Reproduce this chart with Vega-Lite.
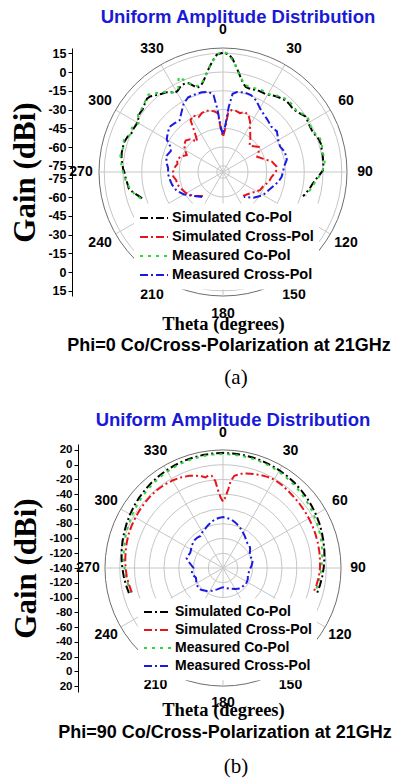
{
  "$schema": "https://vega.github.io/schema/vega-lite/v6.json",
  "background": "white",
  "padding": {"left": 9, "top": 7, "right": 5, "bottom": 5},
  "config": {
    "view": {"stroke": null},
    "font": "Liberation Sans",
    "axis": {"labelColor": "#000", "titleColor": "#000", "domainColor": "#000", "tickColor": "#000"}
  },
  "bounds": "flush",
  "center": true,
  "spacing": 148,
  "resolve": {
    "scale": {"color": "independent", "strokeDash": "independent", "size": "independent", "stroke": "independent"},
    "legend": {"color": "independent", "strokeDash": "independent"}
  },
  "datasets": {
    "angles": [
      {"a": 0, "label": "0"}, {"a": 30, "label": "30"}, {"a": 60, "label": "60"}, {"a": 90, "label": "90"},
      {"a": 120, "label": "120"}, {"a": 150, "label": "150"}, {"a": 180, "label": "180"}, {"a": 210, "label": "210"},
      {"a": 240, "label": "240"}, {"a": 270, "label": "270"}, {"a": 300, "label": "300"}, {"a": 330, "label": "330"}
    ],
    "gridA": [{"g": 19.2}, {"g": 15}, {"g": 0}, {"g": -15}, {"g": -30}, {"g": -45}, {"g": -60}, {"g": -75}],
    "gridB": [{"g": 20}, {"g": 0}, {"g": -20}, {"g": -40}, {"g": -60}, {"g": -80}, {"g": -100}, {"g": -120}],
    "capA": [{"text": "Phi=0 Co/Cross-Polarization at 21GHz"}],
    "tagA": [{"text": "(a)"}],
    "capB": [{"text": "Phi=90 Co/Cross-Polarization at 21GHz"}],
    "tagB": [{"text": "(b)"}],
    "curvesA": [
      {"s": "Simulated Co-Pol", "t": -108, "g": -12}, {"s": "Simulated Co-Pol", "t": -106, "g": -10}, {"s": "Simulated Co-Pol", "t": -103, "g": -6.5},
      {"s": "Simulated Co-Pol", "t": -100, "g": -3.5}, {"s": "Simulated Co-Pol", "t": -97, "g": -3}, {"s": "Simulated Co-Pol", "t": -94, "g": -2},
      {"s": "Simulated Co-Pol", "t": -91, "g": -1.5}, {"s": "Simulated Co-Pol", "t": -88, "g": 0}, {"s": "Simulated Co-Pol", "t": -85, "g": 1},
      {"s": "Simulated Co-Pol", "t": -82, "g": 2}, {"s": "Simulated Co-Pol", "t": -79, "g": 2.5}, {"s": "Simulated Co-Pol", "t": -76, "g": 2.5},
      {"s": "Simulated Co-Pol", "t": -73, "g": 2.5}, {"s": "Simulated Co-Pol", "t": -70, "g": 1.5}, {"s": "Simulated Co-Pol", "t": -67, "g": -0.5},
      {"s": "Simulated Co-Pol", "t": -64, "g": -0.5}, {"s": "Simulated Co-Pol", "t": -61, "g": -1}, {"s": "Simulated Co-Pol", "t": -58, "g": 0},
      {"s": "Simulated Co-Pol", "t": -55, "g": 1.5}, {"s": "Simulated Co-Pol", "t": -52, "g": 1.5}, {"s": "Simulated Co-Pol", "t": -49, "g": 3},
      {"s": "Simulated Co-Pol", "t": -46, "g": 4.5}, {"s": "Simulated Co-Pol", "t": -44, "g": 4}, {"s": "Simulated Co-Pol", "t": -41, "g": 1.5},
      {"s": "Simulated Co-Pol", "t": -38, "g": -0.5}, {"s": "Simulated Co-Pol", "t": -35, "g": -2}, {"s": "Simulated Co-Pol", "t": -33, "g": -4},
      {"s": "Simulated Co-Pol", "t": -31, "g": -6}, {"s": "Simulated Co-Pol", "t": -29, "g": -5.5}, {"s": "Simulated Co-Pol", "t": -27, "g": -4},
      {"s": "Simulated Co-Pol", "t": -25, "g": -3}, {"s": "Simulated Co-Pol", "t": -23, "g": -3}, {"s": "Simulated Co-Pol", "t": -21, "g": -4},
      {"s": "Simulated Co-Pol", "t": -19, "g": -7}, {"s": "Simulated Co-Pol", "t": -17, "g": -9.5}, {"s": "Simulated Co-Pol", "t": -15, "g": -9},
      {"s": "Simulated Co-Pol", "t": -13, "g": -7}, {"s": "Simulated Co-Pol", "t": -11, "g": -3.5}, {"s": "Simulated Co-Pol", "t": -9, "g": 1},
      {"s": "Simulated Co-Pol", "t": -7, "g": 5.5}, {"s": "Simulated Co-Pol", "t": -5, "g": 10}, {"s": "Simulated Co-Pol", "t": -3, "g": 14},
      {"s": "Simulated Co-Pol", "t": 0, "g": 15.5}, {"s": "Simulated Co-Pol", "t": 3, "g": 14}, {"s": "Simulated Co-Pol", "t": 5, "g": 10.5},
      {"s": "Simulated Co-Pol", "t": 7, "g": 5}, {"s": "Simulated Co-Pol", "t": 9, "g": 0.5}, {"s": "Simulated Co-Pol", "t": 11, "g": -4},
      {"s": "Simulated Co-Pol", "t": 13, "g": -7.5}, {"s": "Simulated Co-Pol", "t": 15, "g": -9.5}, {"s": "Simulated Co-Pol", "t": 17, "g": -10},
      {"s": "Simulated Co-Pol", "t": 19, "g": -10}, {"s": "Simulated Co-Pol", "t": 21, "g": -9.5}, {"s": "Simulated Co-Pol", "t": 23, "g": -9},
      {"s": "Simulated Co-Pol", "t": 25, "g": -9}, {"s": "Simulated Co-Pol", "t": 27, "g": -9}, {"s": "Simulated Co-Pol", "t": 29, "g": -9},
      {"s": "Simulated Co-Pol", "t": 31, "g": -8}, {"s": "Simulated Co-Pol", "t": 33, "g": -7}, {"s": "Simulated Co-Pol", "t": 35, "g": -6},
      {"s": "Simulated Co-Pol", "t": 38, "g": -5}, {"s": "Simulated Co-Pol", "t": 41, "g": -4}, {"s": "Simulated Co-Pol", "t": 44, "g": -4},
      {"s": "Simulated Co-Pol", "t": 47, "g": -4.5}, {"s": "Simulated Co-Pol", "t": 50, "g": -4}, {"s": "Simulated Co-Pol", "t": 53, "g": -2.5},
      {"s": "Simulated Co-Pol", "t": 56, "g": -0.5}, {"s": "Simulated Co-Pol", "t": 59, "g": -1}, {"s": "Simulated Co-Pol", "t": 62, "g": -1.5},
      {"s": "Simulated Co-Pol", "t": 65, "g": -1.5}, {"s": "Simulated Co-Pol", "t": 68, "g": -0.5}, {"s": "Simulated Co-Pol", "t": 71, "g": 1},
      {"s": "Simulated Co-Pol", "t": 74, "g": 1.5}, {"s": "Simulated Co-Pol", "t": 77, "g": 1}, {"s": "Simulated Co-Pol", "t": 80, "g": 1},
      {"s": "Simulated Co-Pol", "t": 83, "g": 0.6}, {"s": "Simulated Co-Pol", "t": 86, "g": 0.5}, {"s": "Simulated Co-Pol", "t": 89, "g": 0},
      {"s": "Simulated Co-Pol", "t": 92, "g": -3}, {"s": "Simulated Co-Pol", "t": 95, "g": -6}, {"s": "Simulated Co-Pol", "t": 98, "g": -8},
      {"s": "Simulated Co-Pol", "t": 101, "g": -9.5}, {"s": "Simulated Co-Pol", "t": 104, "g": -11.5}, {"s": "Simulated Co-Pol", "t": 107, "g": -13},

      {"s": "Measured Co-Pol", "t": -108, "g": -11}, {"s": "Measured Co-Pol", "t": -104, "g": -7}, {"s": "Measured Co-Pol", "t": -100, "g": -4.5},
      {"s": "Measured Co-Pol", "t": -96, "g": -2}, {"s": "Measured Co-Pol", "t": -92, "g": -1}, {"s": "Measured Co-Pol", "t": -88, "g": 1},
      {"s": "Measured Co-Pol", "t": -84, "g": 2}, {"s": "Measured Co-Pol", "t": -80, "g": 3.5}, {"s": "Measured Co-Pol", "t": -76, "g": 2},
      {"s": "Measured Co-Pol", "t": -72, "g": 3.5}, {"s": "Measured Co-Pol", "t": -68, "g": 0}, {"s": "Measured Co-Pol", "t": -64, "g": 1},
      {"s": "Measured Co-Pol", "t": -60, "g": -2}, {"s": "Measured Co-Pol", "t": -56, "g": 2}, {"s": "Measured Co-Pol", "t": -52, "g": 2.5},
      {"s": "Measured Co-Pol", "t": -48, "g": 4}, {"s": "Measured Co-Pol", "t": -44, "g": 6}, {"s": "Measured Co-Pol", "t": -40, "g": 2.5},
      {"s": "Measured Co-Pol", "t": -36, "g": -1}, {"s": "Measured Co-Pol", "t": -32, "g": -5}, {"s": "Measured Co-Pol", "t": -28, "g": -4},
      {"s": "Measured Co-Pol", "t": -25, "g": 4}, {"s": "Measured Co-Pol", "t": -22, "g": -2}, {"s": "Measured Co-Pol", "t": -18, "g": -8},
      {"s": "Measured Co-Pol", "t": -14, "g": -8}, {"s": "Measured Co-Pol", "t": -10, "g": -1}, {"s": "Measured Co-Pol", "t": -6, "g": 8},
      {"s": "Measured Co-Pol", "t": -2, "g": 15}, {"s": "Measured Co-Pol", "t": 0, "g": 16}, {"s": "Measured Co-Pol", "t": 2, "g": 15},
      {"s": "Measured Co-Pol", "t": 6, "g": 8}, {"s": "Measured Co-Pol", "t": 10, "g": -2}, {"s": "Measured Co-Pol", "t": 14, "g": -8},
      {"s": "Measured Co-Pol", "t": 18, "g": -9}, {"s": "Measured Co-Pol", "t": 22, "g": -8}, {"s": "Measured Co-Pol", "t": 26, "g": -7.5},
      {"s": "Measured Co-Pol", "t": 30, "g": -8}, {"s": "Measured Co-Pol", "t": 34, "g": -6}, {"s": "Measured Co-Pol", "t": 38, "g": -3.5},
      {"s": "Measured Co-Pol", "t": 42, "g": -3}, {"s": "Measured Co-Pol", "t": 46, "g": -2.5}, {"s": "Measured Co-Pol", "t": 50, "g": -3.5},
      {"s": "Measured Co-Pol", "t": 54, "g": -1}, {"s": "Measured Co-Pol", "t": 58, "g": 0.5}, {"s": "Measured Co-Pol", "t": 62, "g": -1},
      {"s": "Measured Co-Pol", "t": 66, "g": -1}, {"s": "Measured Co-Pol", "t": 70, "g": 2}, {"s": "Measured Co-Pol", "t": 74, "g": 2.5},
      {"s": "Measured Co-Pol", "t": 78, "g": 1}, {"s": "Measured Co-Pol", "t": 82, "g": 2}, {"s": "Measured Co-Pol", "t": 86, "g": 1.5},
      {"s": "Measured Co-Pol", "t": 90, "g": -1}, {"s": "Measured Co-Pol", "t": 94, "g": -4}, {"s": "Measured Co-Pol", "t": 98, "g": -7},
      {"s": "Measured Co-Pol", "t": 102, "g": -9}, {"s": "Measured Co-Pol", "t": 106, "g": -11},

      {"s": "Simulated Cross-Pol", "t": -140, "g": -55}, {"s": "Simulated Cross-Pol", "t": -130, "g": -50}, {"s": "Simulated Cross-Pol", "t": -120, "g": -46},
      {"s": "Simulated Cross-Pol", "t": -112, "g": -44}, {"s": "Simulated Cross-Pol", "t": -105, "g": -42}, {"s": "Simulated Cross-Pol", "t": -100, "g": -42},
      {"s": "Simulated Cross-Pol", "t": -95, "g": -40}, {"s": "Simulated Cross-Pol", "t": -90, "g": -40}, {"s": "Simulated Cross-Pol", "t": -85, "g": -41},
      {"s": "Simulated Cross-Pol", "t": -80, "g": -43}, {"s": "Simulated Cross-Pol", "t": -75, "g": -42}, {"s": "Simulated Cross-Pol", "t": -70, "g": -44},
      {"s": "Simulated Cross-Pol", "t": -65, "g": -48}, {"s": "Simulated Cross-Pol", "t": -60, "g": -45}, {"s": "Simulated Cross-Pol", "t": -55, "g": -42},
      {"s": "Simulated Cross-Pol", "t": -50, "g": -41}, {"s": "Simulated Cross-Pol", "t": -45, "g": -43}, {"s": "Simulated Cross-Pol", "t": -40, "g": -48},
      {"s": "Simulated Cross-Pol", "t": -36, "g": -42}, {"s": "Simulated Cross-Pol", "t": -32, "g": -31}, {"s": "Simulated Cross-Pol", "t": -28, "g": -29},
      {"s": "Simulated Cross-Pol", "t": -24, "g": -32}, {"s": "Simulated Cross-Pol", "t": -20, "g": -30}, {"s": "Simulated Cross-Pol", "t": -16, "g": -29},
      {"s": "Simulated Cross-Pol", "t": -12, "g": -30}, {"s": "Simulated Cross-Pol", "t": -8, "g": -31}, {"s": "Simulated Cross-Pol", "t": -5, "g": -33},
      {"s": "Simulated Cross-Pol", "t": -3, "g": -45}, {"s": "Simulated Cross-Pol", "t": 0, "g": -52}, {"s": "Simulated Cross-Pol", "t": 3, "g": -45},
      {"s": "Simulated Cross-Pol", "t": 5, "g": -32}, {"s": "Simulated Cross-Pol", "t": 8, "g": -30}, {"s": "Simulated Cross-Pol", "t": 12, "g": -30},
      {"s": "Simulated Cross-Pol", "t": 16, "g": -31}, {"s": "Simulated Cross-Pol", "t": 20, "g": -29}, {"s": "Simulated Cross-Pol", "t": 24, "g": -30},
      {"s": "Simulated Cross-Pol", "t": 28, "g": -34}, {"s": "Simulated Cross-Pol", "t": 31, "g": -38}, {"s": "Simulated Cross-Pol", "t": 35, "g": -42},
      {"s": "Simulated Cross-Pol", "t": 40, "g": -46}, {"s": "Simulated Cross-Pol", "t": 45, "g": -50}, {"s": "Simulated Cross-Pol", "t": 50, "g": -48},
      {"s": "Simulated Cross-Pol", "t": 55, "g": -45}, {"s": "Simulated Cross-Pol", "t": 60, "g": -47}, {"s": "Simulated Cross-Pol", "t": 66, "g": -50},
      {"s": "Simulated Cross-Pol", "t": 72, "g": -46}, {"s": "Simulated Cross-Pol", "t": 78, "g": -40}, {"s": "Simulated Cross-Pol", "t": 84, "g": -37},
      {"s": "Simulated Cross-Pol", "t": 88, "g": -37}, {"s": "Simulated Cross-Pol", "t": 92, "g": -39}, {"s": "Simulated Cross-Pol", "t": 96, "g": -41},
      {"s": "Simulated Cross-Pol", "t": 100, "g": -42}, {"s": "Simulated Cross-Pol", "t": 105, "g": -44}, {"s": "Simulated Cross-Pol", "t": 110, "g": -46},
      {"s": "Simulated Cross-Pol", "t": 116, "g": -47}, {"s": "Simulated Cross-Pol", "t": 122, "g": -50}, {"s": "Simulated Cross-Pol", "t": 130, "g": -53},
      {"s": "Simulated Cross-Pol", "t": 140, "g": -55},

      {"s": "Measured Cross-Pol", "t": -140, "g": -54}, {"s": "Measured Cross-Pol", "t": -130, "g": -50}, {"s": "Measured Cross-Pol", "t": -120, "g": -44},
      {"s": "Measured Cross-Pol", "t": -112, "g": -40}, {"s": "Measured Cross-Pol", "t": -104, "g": -38}, {"s": "Measured Cross-Pol", "t": -98, "g": -37},
      {"s": "Measured Cross-Pol", "t": -92, "g": -36}, {"s": "Measured Cross-Pol", "t": -86, "g": -36}, {"s": "Measured Cross-Pol", "t": -80, "g": -34},
      {"s": "Measured Cross-Pol", "t": -74, "g": -33}, {"s": "Measured Cross-Pol", "t": -68, "g": -35}, {"s": "Measured Cross-Pol", "t": -64, "g": -33},
      {"s": "Measured Cross-Pol", "t": -60, "g": -28}, {"s": "Measured Cross-Pol", "t": -55, "g": -26}, {"s": "Measured Cross-Pol", "t": -50, "g": -24},
      {"s": "Measured Cross-Pol", "t": -45, "g": -25}, {"s": "Measured Cross-Pol", "t": -40, "g": -26}, {"s": "Measured Cross-Pol", "t": -35, "g": -22},
      {"s": "Measured Cross-Pol", "t": -30, "g": -17}, {"s": "Measured Cross-Pol", "t": -25, "g": -14}, {"s": "Measured Cross-Pol", "t": -20, "g": -14},
      {"s": "Measured Cross-Pol", "t": -15, "g": -14}, {"s": "Measured Cross-Pol", "t": -10, "g": -15}, {"s": "Measured Cross-Pol", "t": -7, "g": -18},
      {"s": "Measured Cross-Pol", "t": -5, "g": -30}, {"s": "Measured Cross-Pol", "t": -3, "g": -44}, {"s": "Measured Cross-Pol", "t": 0, "g": -50},
      {"s": "Measured Cross-Pol", "t": 3, "g": -42}, {"s": "Measured Cross-Pol", "t": 5, "g": -28}, {"s": "Measured Cross-Pol", "t": 7, "g": -17},
      {"s": "Measured Cross-Pol", "t": 10, "g": -15}, {"s": "Measured Cross-Pol", "t": 15, "g": -14}, {"s": "Measured Cross-Pol", "t": 20, "g": -14.5},
      {"s": "Measured Cross-Pol", "t": 25, "g": -17}, {"s": "Measured Cross-Pol", "t": 30, "g": -21}, {"s": "Measured Cross-Pol", "t": 34, "g": -23},
      {"s": "Measured Cross-Pol", "t": 40, "g": -25}, {"s": "Measured Cross-Pol", "t": 47, "g": -27}, {"s": "Measured Cross-Pol", "t": 53, "g": -26},
      {"s": "Measured Cross-Pol", "t": 60, "g": -29}, {"s": "Measured Cross-Pol", "t": 66, "g": -30}, {"s": "Measured Cross-Pol", "t": 72, "g": -28},
      {"s": "Measured Cross-Pol", "t": 79, "g": -28}, {"s": "Measured Cross-Pol", "t": 85, "g": -31}, {"s": "Measured Cross-Pol", "t": 90, "g": -32},
      {"s": "Measured Cross-Pol", "t": 95, "g": -33}, {"s": "Measured Cross-Pol", "t": 100, "g": -35}, {"s": "Measured Cross-Pol", "t": 110, "g": -40},
      {"s": "Measured Cross-Pol", "t": 120, "g": -43}, {"s": "Measured Cross-Pol", "t": 130, "g": -48}, {"s": "Measured Cross-Pol", "t": 140, "g": -54}
    ],
    "curvesB": [
      {"s": "Simulated Co-Pol", "t": -105, "g": -8}, {"s": "Simulated Co-Pol", "t": -100, "g": -6.5}, {"s": "Simulated Co-Pol", "t": -95, "g": -5},
      {"s": "Simulated Co-Pol", "t": -90, "g": -3.5}, {"s": "Simulated Co-Pol", "t": -85, "g": -2}, {"s": "Simulated Co-Pol", "t": -80, "g": -0.5},
      {"s": "Simulated Co-Pol", "t": -75, "g": 1}, {"s": "Simulated Co-Pol", "t": -70, "g": 2.5}, {"s": "Simulated Co-Pol", "t": -65, "g": 4},
      {"s": "Simulated Co-Pol", "t": -60, "g": 5.5}, {"s": "Simulated Co-Pol", "t": -55, "g": 7}, {"s": "Simulated Co-Pol", "t": -50, "g": 8.3},
      {"s": "Simulated Co-Pol", "t": -45, "g": 9.6}, {"s": "Simulated Co-Pol", "t": -40, "g": 10.9}, {"s": "Simulated Co-Pol", "t": -35, "g": 12},
      {"s": "Simulated Co-Pol", "t": -30, "g": 13}, {"s": "Simulated Co-Pol", "t": -25, "g": 13.9}, {"s": "Simulated Co-Pol", "t": -20, "g": 14.6},
      {"s": "Simulated Co-Pol", "t": -15, "g": 15.2}, {"s": "Simulated Co-Pol", "t": -10, "g": 15.6}, {"s": "Simulated Co-Pol", "t": -5, "g": 15.9},
      {"s": "Simulated Co-Pol", "t": 0, "g": 16}, {"s": "Simulated Co-Pol", "t": 5, "g": 15.9}, {"s": "Simulated Co-Pol", "t": 10, "g": 15.6},
      {"s": "Simulated Co-Pol", "t": 15, "g": 15.2}, {"s": "Simulated Co-Pol", "t": 20, "g": 14.6}, {"s": "Simulated Co-Pol", "t": 25, "g": 13.8},
      {"s": "Simulated Co-Pol", "t": 30, "g": 12.9}, {"s": "Simulated Co-Pol", "t": 35, "g": 11.9}, {"s": "Simulated Co-Pol", "t": 40, "g": 10.8},
      {"s": "Simulated Co-Pol", "t": 45, "g": 9.5}, {"s": "Simulated Co-Pol", "t": 50, "g": 8.2}, {"s": "Simulated Co-Pol", "t": 55, "g": 6.8},
      {"s": "Simulated Co-Pol", "t": 60, "g": 5.4}, {"s": "Simulated Co-Pol", "t": 65, "g": 4}, {"s": "Simulated Co-Pol", "t": 70, "g": 2.5},
      {"s": "Simulated Co-Pol", "t": 75, "g": 1}, {"s": "Simulated Co-Pol", "t": 80, "g": -0.5}, {"s": "Simulated Co-Pol", "t": 85, "g": -2},
      {"s": "Simulated Co-Pol", "t": 90, "g": -3.5}, {"s": "Simulated Co-Pol", "t": 95, "g": -5}, {"s": "Simulated Co-Pol", "t": 100, "g": -6.5},
      {"s": "Simulated Co-Pol", "t": 105, "g": -8},

      {"s": "Measured Co-Pol", "t": -105, "g": -11}, {"s": "Measured Co-Pol", "t": -100, "g": -9.5}, {"s": "Measured Co-Pol", "t": -95, "g": -8},
      {"s": "Measured Co-Pol", "t": -90, "g": -6.5}, {"s": "Measured Co-Pol", "t": -85, "g": -5}, {"s": "Measured Co-Pol", "t": -80, "g": -3.5},
      {"s": "Measured Co-Pol", "t": -75, "g": -2}, {"s": "Measured Co-Pol", "t": -70, "g": -0.5}, {"s": "Measured Co-Pol", "t": -65, "g": 1},
      {"s": "Measured Co-Pol", "t": -60, "g": 2.5}, {"s": "Measured Co-Pol", "t": -55, "g": 4}, {"s": "Measured Co-Pol", "t": -50, "g": 5.5},
      {"s": "Measured Co-Pol", "t": -45, "g": 7}, {"s": "Measured Co-Pol", "t": -40, "g": 8.5}, {"s": "Measured Co-Pol", "t": -35, "g": 9.8},
      {"s": "Measured Co-Pol", "t": -30, "g": 11}, {"s": "Measured Co-Pol", "t": -25, "g": 12}, {"s": "Measured Co-Pol", "t": -20, "g": 13},
      {"s": "Measured Co-Pol", "t": -15, "g": 13.6}, {"s": "Measured Co-Pol", "t": -10, "g": 14.1}, {"s": "Measured Co-Pol", "t": -5, "g": 14.4},
      {"s": "Measured Co-Pol", "t": 0, "g": 14.5}, {"s": "Measured Co-Pol", "t": 5, "g": 14.3}, {"s": "Measured Co-Pol", "t": 10, "g": 14},
      {"s": "Measured Co-Pol", "t": 15, "g": 13.5}, {"s": "Measured Co-Pol", "t": 20, "g": 12.9}, {"s": "Measured Co-Pol", "t": 25, "g": 12},
      {"s": "Measured Co-Pol", "t": 30, "g": 11}, {"s": "Measured Co-Pol", "t": 35, "g": 9.7}, {"s": "Measured Co-Pol", "t": 40, "g": 8.4},
      {"s": "Measured Co-Pol", "t": 45, "g": 7}, {"s": "Measured Co-Pol", "t": 50, "g": 5.6}, {"s": "Measured Co-Pol", "t": 55, "g": 4.1},
      {"s": "Measured Co-Pol", "t": 60, "g": 2.6}, {"s": "Measured Co-Pol", "t": 65, "g": 1}, {"s": "Measured Co-Pol", "t": 70, "g": -0.5},
      {"s": "Measured Co-Pol", "t": 75, "g": -2}, {"s": "Measured Co-Pol", "t": 80, "g": -3.5}, {"s": "Measured Co-Pol", "t": 85, "g": -5},
      {"s": "Measured Co-Pol", "t": 90, "g": -6.5}, {"s": "Measured Co-Pol", "t": 95, "g": -8}, {"s": "Measured Co-Pol", "t": 100, "g": -9.5},
      {"s": "Measured Co-Pol", "t": 105, "g": -11},

      {"s": "Simulated Cross-Pol", "t": -105, "g": -12}, {"s": "Simulated Cross-Pol", "t": -100, "g": -10.5}, {"s": "Simulated Cross-Pol", "t": -95, "g": -9},
      {"s": "Simulated Cross-Pol", "t": -90, "g": -8}, {"s": "Simulated Cross-Pol", "t": -85, "g": -7}, {"s": "Simulated Cross-Pol", "t": -80, "g": -6},
      {"s": "Simulated Cross-Pol", "t": -75, "g": -5}, {"s": "Simulated Cross-Pol", "t": -70, "g": -4}, {"s": "Simulated Cross-Pol", "t": -65, "g": -3.5},
      {"s": "Simulated Cross-Pol", "t": -60, "g": -3}, {"s": "Simulated Cross-Pol", "t": -55, "g": -2.5}, {"s": "Simulated Cross-Pol", "t": -50, "g": -2},
      {"s": "Simulated Cross-Pol", "t": -45, "g": -1.5}, {"s": "Simulated Cross-Pol", "t": -40, "g": -1.5}, {"s": "Simulated Cross-Pol", "t": -35, "g": -2},
      {"s": "Simulated Cross-Pol", "t": -30, "g": -3}, {"s": "Simulated Cross-Pol", "t": -25, "g": -4.5}, {"s": "Simulated Cross-Pol", "t": -20, "g": -7},
      {"s": "Simulated Cross-Pol", "t": -16, "g": -10}, {"s": "Simulated Cross-Pol", "t": -13, "g": -12.5}, {"s": "Simulated Cross-Pol", "t": -11, "g": -15},
      {"s": "Simulated Cross-Pol", "t": -9, "g": -13}, {"s": "Simulated Cross-Pol", "t": -7, "g": -14}, {"s": "Simulated Cross-Pol", "t": -5, "g": -22},
      {"s": "Simulated Cross-Pol", "t": -4, "g": -32}, {"s": "Simulated Cross-Pol", "t": -2, "g": -44}, {"s": "Simulated Cross-Pol", "t": 0, "g": -50},
      {"s": "Simulated Cross-Pol", "t": 2, "g": -44}, {"s": "Simulated Cross-Pol", "t": 4, "g": -32}, {"s": "Simulated Cross-Pol", "t": 5, "g": -22},
      {"s": "Simulated Cross-Pol", "t": 7, "g": -14}, {"s": "Simulated Cross-Pol", "t": 9, "g": -12}, {"s": "Simulated Cross-Pol", "t": 11, "g": -10},
      {"s": "Simulated Cross-Pol", "t": 14, "g": -8}, {"s": "Simulated Cross-Pol", "t": 18, "g": -6}, {"s": "Simulated Cross-Pol", "t": 22, "g": -4},
      {"s": "Simulated Cross-Pol", "t": 26, "g": -2.5}, {"s": "Simulated Cross-Pol", "t": 30, "g": -1.5}, {"s": "Simulated Cross-Pol", "t": 35, "g": -2},
      {"s": "Simulated Cross-Pol", "t": 40, "g": -3}, {"s": "Simulated Cross-Pol", "t": 45, "g": -4}, {"s": "Simulated Cross-Pol", "t": 50, "g": -4.5},
      {"s": "Simulated Cross-Pol", "t": 55, "g": -5}, {"s": "Simulated Cross-Pol", "t": 60, "g": -5.5}, {"s": "Simulated Cross-Pol", "t": 65, "g": -6},
      {"s": "Simulated Cross-Pol", "t": 70, "g": -6.5}, {"s": "Simulated Cross-Pol", "t": 75, "g": -7}, {"s": "Simulated Cross-Pol", "t": 80, "g": -7.5},
      {"s": "Simulated Cross-Pol", "t": 85, "g": -8}, {"s": "Simulated Cross-Pol", "t": 90, "g": -8.5}, {"s": "Simulated Cross-Pol", "t": 95, "g": -9.5},
      {"s": "Simulated Cross-Pol", "t": 100, "g": -11}, {"s": "Simulated Cross-Pol", "t": 105, "g": -13},

      {"s": "Measured Cross-Pol", "t": -180, "g": -114}, {"s": "Measured Cross-Pol", "t": -165, "g": -110}, {"s": "Measured Cross-Pol", "t": -155, "g": -106},
      {"s": "Measured Cross-Pol", "t": -145, "g": -102}, {"s": "Measured Cross-Pol", "t": -136, "g": -98.5}, {"s": "Measured Cross-Pol", "t": -130, "g": -97},
      {"s": "Measured Cross-Pol", "t": -120, "g": -98}, {"s": "Measured Cross-Pol", "t": -115, "g": -100}, {"s": "Measured Cross-Pol", "t": -110, "g": -101},
      {"s": "Measured Cross-Pol", "t": -105, "g": -99}, {"s": "Measured Cross-Pol", "t": -100, "g": -97}, {"s": "Measured Cross-Pol", "t": -95, "g": -98},
      {"s": "Measured Cross-Pol", "t": -90, "g": -100}, {"s": "Measured Cross-Pol", "t": -85, "g": -97}, {"s": "Measured Cross-Pol", "t": -80, "g": -93},
      {"s": "Measured Cross-Pol", "t": -75, "g": -89}, {"s": "Measured Cross-Pol", "t": -70, "g": -90}, {"s": "Measured Cross-Pol", "t": -65, "g": -91},
      {"s": "Measured Cross-Pol", "t": -60, "g": -90}, {"s": "Measured Cross-Pol", "t": -55, "g": -88}, {"s": "Measured Cross-Pol", "t": -50, "g": -87},
      {"s": "Measured Cross-Pol", "t": -45, "g": -86}, {"s": "Measured Cross-Pol", "t": -40, "g": -86}, {"s": "Measured Cross-Pol", "t": -35, "g": -87},
      {"s": "Measured Cross-Pol", "t": -30, "g": -84}, {"s": "Measured Cross-Pol", "t": -25, "g": -82}, {"s": "Measured Cross-Pol", "t": -20, "g": -79},
      {"s": "Measured Cross-Pol", "t": -15, "g": -76}, {"s": "Measured Cross-Pol", "t": -10, "g": -73.5}, {"s": "Measured Cross-Pol", "t": -5, "g": -72},
      {"s": "Measured Cross-Pol", "t": 0, "g": -71}, {"s": "Measured Cross-Pol", "t": 5, "g": -72}, {"s": "Measured Cross-Pol", "t": 10, "g": -73.5},
      {"s": "Measured Cross-Pol", "t": 15, "g": -76}, {"s": "Measured Cross-Pol", "t": 20, "g": -79}, {"s": "Measured Cross-Pol", "t": 25, "g": -82},
      {"s": "Measured Cross-Pol", "t": 30, "g": -85}, {"s": "Measured Cross-Pol", "t": 35, "g": -88}, {"s": "Measured Cross-Pol", "t": 40, "g": -91},
      {"s": "Measured Cross-Pol", "t": 45, "g": -93}, {"s": "Measured Cross-Pol", "t": 50, "g": -93}, {"s": "Measured Cross-Pol", "t": 55, "g": -95},
      {"s": "Measured Cross-Pol", "t": 60, "g": -98}, {"s": "Measured Cross-Pol", "t": 67, "g": -100}, {"s": "Measured Cross-Pol", "t": 75, "g": -98},
      {"s": "Measured Cross-Pol", "t": 85, "g": -101}, {"s": "Measured Cross-Pol", "t": 95, "g": -104}, {"s": "Measured Cross-Pol", "t": 105, "g": -105},
      {"s": "Measured Cross-Pol", "t": 115, "g": -103}, {"s": "Measured Cross-Pol", "t": 125, "g": -102}, {"s": "Measured Cross-Pol", "t": 140, "g": -104},
      {"s": "Measured Cross-Pol", "t": 150, "g": -107}, {"s": "Measured Cross-Pol", "t": 160, "g": -110}, {"s": "Measured Cross-Pol", "t": 170, "g": -112},
      {"s": "Measured Cross-Pol", "t": 180, "g": -114}
    ]
  },
  "vconcat": [
    {
      "width": 248,
      "height": 248,
      "title": {"text": "Uniform Amplitude Distribution", "color": "#1a1ad6", "font": "Liberation Sans", "fontSize": 18.5, "fontWeight": "bold", "anchor": "middle", "dx": 15, "offset": -3},
      "encoding": {
        "x": {"field": "px", "type": "quantitative", "scale": {"domain": [-99.2, 99.2], "nice": false, "zero": false},
          "axis": {"title": "Theta (degrees)", "labels": false, "ticks": false, "domain": false, "grid": false, "titleFont": "Liberation Serif", "titleFontSize": 18.5, "titleFontWeight": "bold", "titlePadding": 18}},
        "y": {"field": "py", "type": "quantitative", "scale": {"domain": [-99.2, 99.2], "nice": false, "zero": false},
          "axis": {"values": [95, 80, 65, 50, 35, 20, 5, -5, -20, -35, -50, -65, -80, -95], "labelExpr": "abs(datum.value) - 80", "offset": 27, "grid": false, "title": "Gain (dBi)", "titleFont": "Liberation Serif", "titleFontSize": 31, "titleFontWeight": "bold", "titlePadding": 6, "labelFont": "Liberation Sans", "labelFontSize": 12.5, "labelFontWeight": "bold", "labelPadding": 2, "tickSize": 4, "labelOverlap": false, "labelFlush": false}}
      },
      "layer": [
        {
          "data": {"name": "gridA"},
          "transform": [
            {"calculate": "datum.g + 80", "as": "u"},
            {"calculate": "0", "as": "px"},
            {"calculate": "0", "as": "py"}
          ],
          "mark": {"type": "point", "shape": "circle", "filled": false, "opacity": 1, "strokeWidth": 1},
          "encoding": {
            "size": {"field": "u", "type": "quantitative", "scale": {"type": "pow", "exponent": 2, "domain": [0, 99.2], "range": [0, 61504], "zero": true, "nice": false}, "legend": null},
            "stroke": {"condition": {"test": "datum.g > 19", "value": "#6e6e6e"}, "value": "#c6c6c6"}
          }
        },
        {
          "data": {"name": "angles"},
          "transform": [
            {"calculate": "99.2 * sin(datum.a * PI / 180)", "as": "px"},
            {"calculate": "99.2 * cos(datum.a * PI / 180)", "as": "py"}
          ],
          "mark": {"type": "rule", "stroke": "#c6c6c6", "strokeWidth": 1},
          "encoding": {
            "x2": {"datum": 0},
            "y2": {"datum": 0}
          }
        },
        {
          "data": {"name": "curvesA"},
          "transform": [
            {"calculate": "max(datum.g + 80, 0)", "as": "r"},
            {"calculate": "datum.r * sin(datum.t * PI / 180)", "as": "px"},
            {"calculate": "datum.r * cos(datum.t * PI / 180)", "as": "py"}
          ],
          "mark": {"type": "line", "strokeWidth": 2},
          "encoding": {
            "order": {"field": "t", "type": "quantitative"},
            "color": {"field": "s", "type": "nominal",
              "scale": {"domain": ["Simulated Co-Pol", "Simulated Cross-Pol", "Measured Co-Pol", "Measured Cross-Pol"], "range": ["#000000", "#e8141c", "#2fd43a", "#1a1ae0"]},
              "legend": {"orient": "none", "legendX": 35, "legendY": 155.5, "title": null, "fillColor": "white", "padding": 5, "symbolType": "stroke", "symbolSize": 784, "symbolStrokeWidth": 2, "labelFont": "Liberation Sans", "labelFontSize": 14.5, "labelFontWeight": "bold", "labelColor": "#000", "labelOffset": 3, "rowPadding": 0, "clipHeight": 19}},
            "strokeDash": {"field": "s", "type": "nominal",
              "scale": {"domain": ["Simulated Co-Pol", "Simulated Cross-Pol", "Measured Co-Pol", "Measured Cross-Pol"], "range": [[8, 3, 2, 3], [8, 3, 2, 3], [3, 5], [8, 3, 2, 3]]},
              "legend": {"orient": "none", "legendX": 35, "legendY": 155.5, "title": null, "fillColor": "white", "padding": 5, "symbolType": "stroke", "symbolSize": 784, "symbolStrokeWidth": 2, "labelFont": "Liberation Sans", "labelFontSize": 14.5, "labelFontWeight": "bold", "labelColor": "#000", "labelOffset": 3, "rowPadding": 0, "clipHeight": 19}}
          }
        },
        {
          "data": {"name": "angles"},
          "transform": [
            {"calculate": "113.6 * sin(datum.a * PI / 180)", "as": "px"},
            {"calculate": "113.6 * cos(datum.a * PI / 180)", "as": "py"}
          ],
          "mark": {"type": "text", "font": "Liberation Sans", "fontSize": 14, "fontWeight": "bold", "align": "center", "baseline": "middle", "color": "#000"},
          "encoding": {"text": {"field": "label"}}
        },
        {
          "data": {"name": "capA"},
          "transform": [{"calculate": "4.8", "as": "px"}, {"calculate": "-139.2", "as": "py"}],
          "mark": {"type": "text", "font": "Liberation Sans", "fontSize": 18, "fontWeight": "bold", "align": "center", "baseline": "middle", "color": "#000"},
          "encoding": {"text": {"field": "text"}}
        },
        {
          "data": {"name": "tagA"},
          "transform": [{"calculate": "10.4", "as": "px"}, {"calculate": "-164.8", "as": "py"}],
          "mark": {"type": "text", "font": "Liberation Serif", "fontSize": 21, "align": "center", "baseline": "middle", "color": "#000"},
          "encoding": {"text": {"field": "text"}}
        }
      ]
    },
    {
      "width": 248,
      "height": 248,
      "title": {"text": "Uniform Amplitude Distribution", "color": "#1a1ad6", "font": "Liberation Sans", "fontSize": 18.5, "fontWeight": "bold", "anchor": "middle", "dx": 10, "offset": -3},
      "encoding": {
        "x": {"field": "px", "type": "quantitative", "scale": {"domain": [-168.1, 168.1], "nice": false, "zero": false},
          "axis": {"title": "Theta (degrees)", "labels": false, "ticks": false, "domain": false, "grid": false, "titleFont": "Liberation Serif", "titleFontSize": 18.5, "titleFontWeight": "bold", "titlePadding": 8}},
        "y": {"field": "py", "type": "quantitative", "scale": {"domain": [-168.1, 168.1], "nice": false, "zero": false},
          "axis": {"values": [160, 140, 120, 100, 80, 60, 40, 20, 0, -20, -40, -60, -80, -100, -120, -140, -160], "labelExpr": "abs(datum.value) - 140", "offset": 21, "grid": false, "title": "Gain (dBi)", "titleFont": "Liberation Serif", "titleFontSize": 31, "titleFontWeight": "bold", "titlePadding": 6, "labelFont": "Liberation Sans", "labelFontSize": 11.5, "labelFontWeight": "bold", "labelPadding": 2, "tickSize": 4, "labelOverlap": false, "labelFlush": false}}
      },
      "layer": [
        {
          "data": {"name": "gridB"},
          "transform": [
            {"calculate": "datum.g + 140", "as": "u"},
            {"calculate": "0", "as": "px"},
            {"calculate": "0", "as": "py"}
          ],
          "mark": {"type": "point", "shape": "circle", "filled": false, "opacity": 1, "strokeWidth": 1},
          "encoding": {
            "size": {"field": "u", "type": "quantitative", "scale": {"type": "pow", "exponent": 2, "domain": [0, 168.1], "range": [0, 61504], "zero": true, "nice": false}, "legend": null},
            "stroke": {"condition": {"test": "datum.g >= 20", "value": "#6e6e6e"}, "value": "#c6c6c6"}
          }
        },
        {
          "data": {"name": "angles"},
          "transform": [
            {"calculate": "160 * sin(datum.a * PI / 180)", "as": "px"},
            {"calculate": "160 * cos(datum.a * PI / 180)", "as": "py"}
          ],
          "mark": {"type": "rule", "stroke": "#c6c6c6", "strokeWidth": 1},
          "encoding": {
            "x2": {"datum": 0},
            "y2": {"datum": 0}
          }
        },
        {
          "data": {"name": "curvesB"},
          "transform": [
            {"calculate": "max(datum.g + 140, 0)", "as": "r"},
            {"calculate": "datum.r * sin(datum.t * PI / 180)", "as": "px"},
            {"calculate": "datum.r * cos(datum.t * PI / 180)", "as": "py"}
          ],
          "mark": {"type": "line", "strokeWidth": 2},
          "encoding": {
            "order": {"field": "t", "type": "quantitative"},
            "color": {"field": "s", "type": "nominal",
              "scale": {"domain": ["Simulated Co-Pol", "Simulated Cross-Pol", "Measured Co-Pol", "Measured Cross-Pol"], "range": ["#000000", "#e8141c", "#2fd43a", "#1a1ae0"]},
              "legend": {"orient": "none", "legendX": 39, "legendY": 154.3, "title": null, "fillColor": "white", "padding": 5, "symbolType": "stroke", "symbolSize": 729, "symbolStrokeWidth": 2, "labelFont": "Liberation Sans", "labelFontSize": 14, "labelFontWeight": "bold", "labelColor": "#000", "labelOffset": 3, "rowPadding": 0, "clipHeight": 17.3}},
            "strokeDash": {"field": "s", "type": "nominal",
              "scale": {"domain": ["Simulated Co-Pol", "Simulated Cross-Pol", "Measured Co-Pol", "Measured Cross-Pol"], "range": [[8, 3, 2, 3], [8, 3, 2, 3], [3, 5], [8, 3, 2, 3]]},
              "legend": {"orient": "none", "legendX": 39, "legendY": 154.3, "title": null, "fillColor": "white", "padding": 5, "symbolType": "stroke", "symbolSize": 729, "symbolStrokeWidth": 2, "labelFont": "Liberation Sans", "labelFontSize": 14, "labelFontWeight": "bold", "labelColor": "#000", "labelOffset": 3, "rowPadding": 0, "clipHeight": 17.3}}
          }
        },
        {
          "data": {"name": "angles"},
          "transform": [
            {"calculate": "183 * sin(datum.a * PI / 180)", "as": "px"},
            {"calculate": "183 * cos(datum.a * PI / 180)", "as": "py"}
          ],
          "mark": {"type": "text", "font": "Liberation Sans", "fontSize": 14, "fontWeight": "bold", "align": "center", "baseline": "middle", "color": "#000"},
          "encoding": {"text": {"field": "label"}}
        },
        {
          "data": {"name": "capB"},
          "transform": [{"calculate": "2.7", "as": "px"}, {"calculate": "-223.7", "as": "py"}],
          "mark": {"type": "text", "font": "Liberation Sans", "fontSize": 18, "fontWeight": "bold", "align": "center", "baseline": "middle", "color": "#000"},
          "encoding": {"text": {"field": "text"}}
        },
        {
          "data": {"name": "tagB"},
          "transform": [{"calculate": "17.6", "as": "px"}, {"calculate": "-269.8", "as": "py"}],
          "mark": {"type": "text", "font": "Liberation Serif", "fontSize": 21, "align": "center", "baseline": "middle", "color": "#000"},
          "encoding": {"text": {"field": "text"}}
        }
      ]
    }
  ]
}
